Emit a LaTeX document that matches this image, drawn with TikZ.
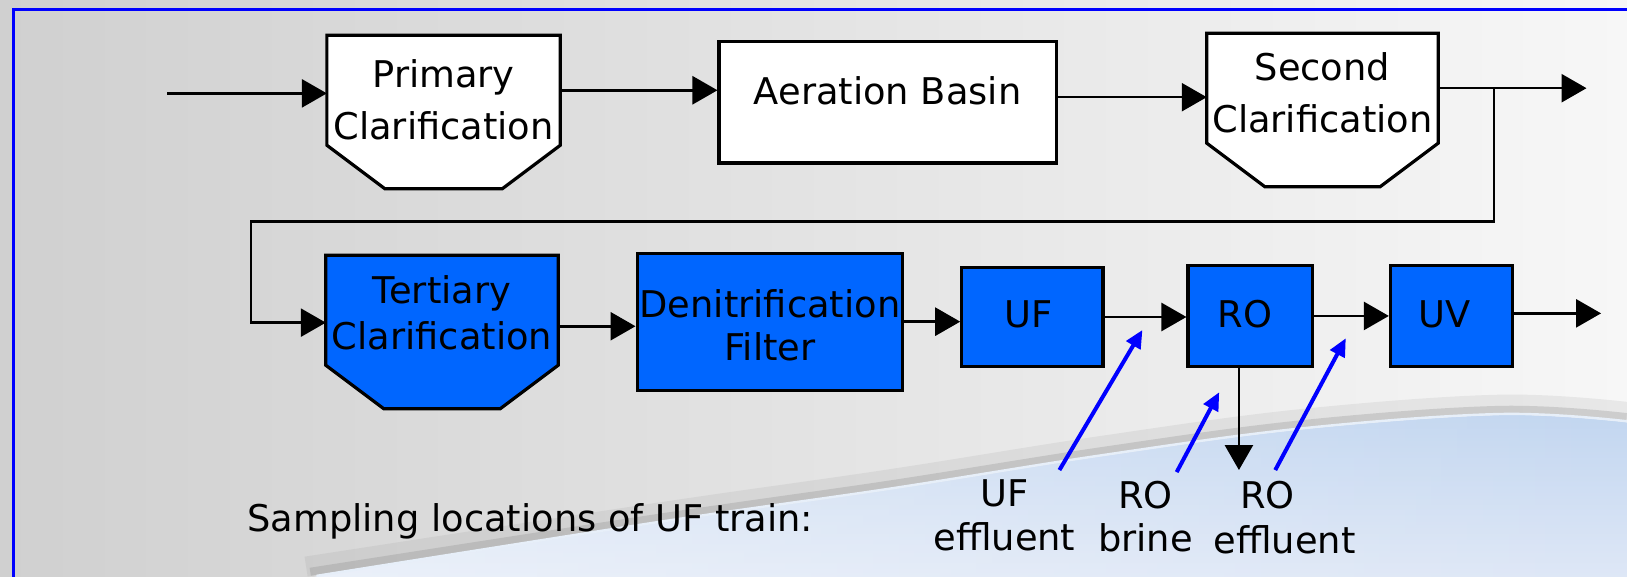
\documentclass[tikz,border=0pt]{standalone}
\usepackage{fontspec}
\setmainfont{DejaVu Sans}
\usetikzlibrary{arrows.meta,calc,fadings}
\definecolor{boxblue}{RGB}{0,102,255}
\definecolor{frameblue}{RGB}{0,0,255}
\definecolor{bgL}{RGB}{208,208,208}
\definecolor{bgR}{RGB}{247,247,247}
\definecolor{swTop}{RGB}{194,214,240}
\definecolor{swBot}{RGB}{222,231,246}
\newcommand\clarshape[2]{%
  \draw[boxline,fill=#2] (#1.north west) -- (#1.north east) -- (#1.south east)
    -- ($(#1.south east)+(-56,42)$) -- ($(#1.south west)+(56,42)$)
    -- (#1.south west) -- cycle;}
\begin{document}
\begin{tikzpicture}[x=0.5188pt,y=-0.5188pt,
  font=\fontsize{18.4}{26}\selectfont,
  boxline/.style={line width=1.6pt,draw=black},
  clar/.style={draw=none,inner sep=0pt,outer sep=0pt,minimum height=55pt},
  wbox/.style={boxline,fill=white,inner sep=0pt},
  bbox/.style={boxline,fill=boxblue,inner sep=0pt},
  txt/.style={inner sep=0pt,align=center},
  conn/.style={line width=1.3pt,-{Triangle[length=12.5pt,width=14pt]}},
  samp/.style={line width=2pt,draw=frameblue,-{Triangle[length=9pt,width=8pt]}}]
\useasboundingbox (0,0) rectangle (1568,556);
% background
\shade[left color=bgL,right color=bgR] (0,0) rectangle (1568,556);
% shadow above swoosh
\draw[gray,line width=10pt,opacity=0.12] plot[smooth,tension=0.6] coordinates {(295,546) (635,494) (857,462) (1060,430) (1253,404) (1446,390) (1568,397)};
\draw[gray,line width=4pt,opacity=0.25] plot[smooth,tension=0.6] coordinates {(299,551) (635,499) (857,467) (1060,435) (1253,409) (1446,395) (1568,402)};
% swoosh
\shade[top color=swTop,bottom color=swBot] plot[smooth,tension=0.6] coordinates {(303,556) (635,504) (857,472) (1060,440) (1253,414) (1446,400) (1568,407)} -- (1568,556) -- cycle;
\fill[white,opacity=0.4,path fading=east] plot[smooth,tension=0.6] coordinates {(303,556) (635,504) (857,472) (1060,440) (1253,414) (1446,400) (1568,407)} -- (1568,556) -- cycle;
\draw[white!60!swTop,line width=1.2pt] plot[smooth,tension=0.6] coordinates {(305,555) (635,503) (857,471) (1060,439) (1253,413) (1446,399) (1568,406)};
% frame
\draw[frameblue,line width=1.5pt] (13,556) -- (13,9.6) -- (1568,9.6);

% row 1
\node[clar,minimum width=116.7pt] (pc) at (427.5,87) {};
\clarshape{pc}{white}
\node[txt] (pct) at (427.5,96) {Primary\\Clarification};
\node[wbox,minimum width=168.6pt,minimum height=60.7pt] (ab) at (855.5,98.5) {};
\node[txt,anchor=base] (abt) at (855.5,101) {Aeration Basin};
\node[clar,minimum width=115.7pt] (sc) at (1274.5,85) {};
\clarshape{sc}{white}
\node[txt] (sct) at (1274.5,89.5) {Second\\Clarification};

% row 2
\node[clar,minimum width=116.2pt] (tc) at (426,299) {};
\clarshape{tc}{boxblue}
\node[txt,font=\fontsize{18.4}{23.4}\selectfont] (tct) at (426,301.5) {Tertiary\\Clarification};
\node[bbox,minimum width=132.8pt,minimum height=68.5pt] (dn) at (742,310) {};
\node[txt,font=\fontsize{18.4}{21.5}\selectfont] (dnt) at (742,313.3) {Denitrification\\Filter};
\node[bbox,minimum width=70.6pt,minimum height=49.3pt] (uf) at (995,305.5) {};
\node[txt,anchor=base] (uft) at (991,316) {UF};
\node[bbox,minimum width=62.3pt,minimum height=50.3pt] (ro) at (1205,304.5) {};
\node[txt,anchor=base] (rot) at (1200,316) {RO};
\node[bbox,minimum width=61.2pt,minimum height=50.3pt] (uv) at (1399,304.5) {};
\node[txt,anchor=base] (uvt) at (1392,316) {UV};

% coordinates
\coordinate (in) at (161,90);
\coordinate (out1) at (1529,85);
\coordinate (j) at (1440,85);
\coordinate (lp) at (242,213.6);
\coordinate (out2) at (1543,302);
\coordinate (brine) at (1194,453);

% connectors
\draw[conn] (in) -- (in -| pc.west);
\draw[conn] (pc.east) -- (pc.east -| ab.west);
\draw[conn] ([yshift=2.5pt]ab.east) -- ([yshift=2.5pt]ab.east -| sc.west);
\draw[conn] (sc.east) -- (out1);
\draw[conn] (j) |- (lp) |- ([yshift=-6.2pt]tc.west);
\draw[conn] ([yshift=-8pt]tc.east) -- ([yshift=-8pt]tc.east -| dn.west);
\draw[conn] (dn.east) -- (dn.east -| uf.west);
\draw[conn] (uf.east) -- (uf.east -| ro.west);
\draw[conn] (ro.east) -- (ro.east -| uv.west);
\draw[conn] (uv.east |- out2) -- (out2);
\draw[conn] (ro.south -| brine) -- (brine);

% sampling labels
\node[txt,anchor=base west] (sl) at (238,512) {Sampling locations of UF train:};
\node[txt,font=\fontsize{18.4}{21.8}\selectfont] (ufl) at (968,496.5) {UF\\effluent};
\node[txt,font=\fontsize{18.4}{21.8}\selectfont] (rbl) at (1104,498) {RO\\brine};
\node[txt,font=\fontsize{18.4}{22.5}\selectfont] (rel) at (1238,498.8) {RO\hspace*{17pt}\\effluent};

\coordinate (a1t) at (1021,453);
\coordinate (a1h) at (1101,318);
\coordinate (a2t) at (1134,455);
\coordinate (a2h) at (1175,378);
\coordinate (a3t) at (1229,453);
\coordinate (a3h) at (1297,326);
\draw[samp] (a1t) -- (a1h);
\draw[samp] (a2t) -- (a2h);
\draw[samp] (a3t) -- (a3h);
\end{tikzpicture}
\end{document}
